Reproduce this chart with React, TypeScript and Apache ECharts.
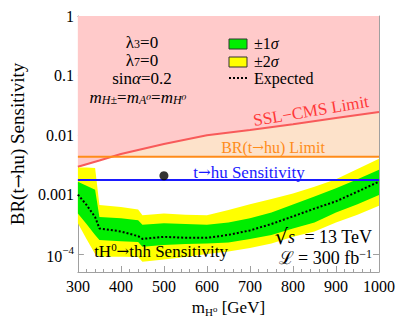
import React, { useEffect, useRef } from 'react';
import * as echarts from 'echarts';

// Mass grid (GeV) for the sensitivity bands
const masses = [300, 320, 340, 350, 400, 440, 450, 500, 550, 600, 650, 700, 750, 800, 850, 900, 950, 1000];
const expected = [1.0e-3, 6.7e-4, 4.2e-4, 2.7e-4, 2.4e-4, 2.0e-4, 1.8e-4, 1.95e-4, 1.88e-4, 1.88e-4, 2.1e-4, 2.5e-4, 3.2e-4, 4.3e-4, 5.8e-4, 7.7e-4, 1.12e-3, 1.65e-3];
const up1 = [1.64e-3, 1.4e-3, 1.2e-3, 4.2e-4, 4.0e-4, 3.7e-4, 3.1e-4, 3.3e-4, 3.2e-4, 3.1e-4, 3.4e-4, 4.0e-4, 5.0e-4, 6.8e-4, 9.3e-4, 1.28e-3, 1.8e-3, 2.6e-3];
const dn1 = [4.8e-4, 3.2e-4, 2.1e-4, 1.72e-4, 1.65e-4, 1.6e-4, 1.33e-4, 1.42e-4, 1.47e-4, 1.5e-4, 1.57e-4, 1.8e-4, 2.1e-4, 2.7e-4, 3.4e-4, 5.0e-4, 6.9e-4, 9.8e-4];
const up2 = [2.85e-3, 2.85e-3, 2.8e-3, 6.7e-4, 6.2e-4, 5.6e-4, 4.5e-4, 4.8e-4, 4.6e-4, 4.5e-4, 5.5e-4, 6.9e-4, 8.4e-4, 1.04e-3, 1.35e-3, 1.8e-3, 2.7e-3, 4.0e-3];
const dn2 = [3.3e-4, 1.8e-4, 1.0e-4, 9.0e-5, 9.0e-5, 8.9e-5, 7.4e-5, 8.1e-5, 8.9e-5, 1.0e-4, 1.1e-4, 1.27e-4, 1.5e-4, 1.95e-4, 2.4e-4, 3.4e-4, 4.6e-4, 6.5e-4];

// SSL-CMS limit
const sslMass = [300, 350, 400, 500, 600, 700, 800, 900, 1000];
const sslLimit = [2.93e-3, 3.73e-3, 4.8e-3, 7.06e-3, 9.9e-3, 0.0121, 0.0152, 0.0193, 0.0244];

// Horizontal references
const lineMass = [300, 1000];
const brLimit = [0.0043, 0.0043];
const thuSens = [0.00175, 0.00175];

// Benchmark point
const pointMass = [500];
const pointValue = [0.00207];

// Tick labels
const xTicks = [300, 400, 500, 600, 700, 800, 900, 1000];
const yTickExp = [-4, -3, -2, -1, 0];
const yTickLabels = ['{b|10}{s|−4}', '0.001', '0.01', '0.1', '1'];

const FONT = '"Liberation Serif", "Times New Roman", "DejaVu Serif", serif';
const ARROW_FONT = '"DejaVu Serif", "DejaVu Sans", serif';
const GRAY = '#a0a0a0';

export default function App() {
  const ref = useRef<HTMLDivElement>(null);
  useEffect(() => {
    if (!ref.current) return;
    const chart = echarts.init(ref.current, undefined, { renderer: 'svg' });
    const pair = (xs: number[], ys: number[]) => xs.map((x, i) => [x, ys[i]]);

    const yFormatter = (v: number) => {
      const e = Math.log10(v);
      const r = Math.round(e);
      if (Math.abs(e - r) > 1e-6) return '';
      const k = yTickExp.indexOf(r);
      return k >= 0 ? yTickLabels[k] : '';
    };

    const xCommon = {
      type: 'value' as const,
      min: 300,
      max: 1000,
      interval: 100,
      splitLine: { show: false },
      axisLine: { show: true, onZero: false, lineStyle: { color: GRAY, width: 1 } },
      axisTick: { show: true, inside: true, length: 6, lineStyle: { color: GRAY } },
      minorTick: { show: true, splitNumber: 5, length: 3, lineStyle: { color: GRAY } },
    };
    const yCommon = {
      type: 'log' as const,
      logBase: 10,
      min: 5e-5,
      max: 1,
      splitLine: { show: false },
      axisLine: { show: true, onZero: false, lineStyle: { color: GRAY, width: 1 } },
      axisTick: { show: true, inside: true, length: 6, lineStyle: { color: GRAY } },
    };

    const txt = (size: number, color: string, italic = false, extra: any = {}) => ({
      fontSize: size, fontFamily: FONT, fill: color, fontStyle: italic ? 'italic' : 'normal', ...extra,
    });

    chart.setOption({
      animation: false,
      backgroundColor: '#ffffff',
      grid: { left: 72, right: 20, top: 16, bottom: 56, containLabel: false },
      xAxis: [
        {
          ...xCommon,
          position: 'bottom',
          axisLabel: {
            margin: 6, fontSize: 16, color: '#000', fontFamily: FONT,
            formatter: (v: number) => (xTicks.indexOf(v) >= 0 ? String(v) : ''),
          },
          name: '{m|m}{s|H⁰}{m| [GeV]}',
          nameLocation: 'middle',
          nameGap: 21,
          nameTextStyle: {
            fontFamily: FONT, color: '#000',
            rich: {
              m: { fontSize: 17, fontFamily: FONT, lineHeight: 20, color: '#000' },
              s: { fontSize: 11, fontFamily: FONT, lineHeight: 12, verticalAlign: 'bottom', color: '#000' },
            },
          },
        },
        { ...xCommon, position: 'top', axisLabel: { show: false } },
      ],
      yAxis: [
        {
          ...yCommon,
          position: 'left',
          axisLabel: {
            margin: 4, fontSize: 16, color: '#000', fontFamily: FONT, showMinLabel: false,
            formatter: yFormatter,
            rich: {
              b: { fontSize: 16, fontFamily: FONT, color: '#000', lineHeight: 20, verticalAlign: 'bottom' },
              s: { fontSize: 11, fontFamily: FONT, color: '#000', lineHeight: 12, verticalAlign: 'top' },
            },
          },
          name: '{n|BR(t}{a|→}{n|hu) Sensitivity}',
          nameLocation: 'middle',
          nameGap: 46,
          nameTextStyle: {
            fontSize: 19, fontFamily: FONT, color: '#000',
            rich: {
              n: { fontSize: 19, fontFamily: FONT, color: '#000' },
              a: { fontSize: 17, fontFamily: ARROW_FONT, color: '#000' },
            },
          },
        },
        { ...yCommon, position: 'right', axisLabel: { show: false } },
      ],
      series: [
        {
          name: 'BR fill',
          type: 'line',
          data: pair(lineMass, brLimit),
          symbol: 'none',
          lineStyle: { width: 0 },
          areaStyle: { color: '#fde2ca', opacity: 1, origin: 'end' },
          z: 1,
        },
        {
          name: 'SSL-CMS Limit',
          type: 'line',
          data: pair(sslMass, sslLimit),
          symbol: 'none',
          lineStyle: { color: '#f85a5a', width: 2 },
          areaStyle: { color: '#ffcaca', opacity: 1, origin: 'end' },
          z: 2,
        },
        {
          name: 'bands',
          type: 'custom',
          data: pair(masses, expected),
          z: 3,
          renderItem: (params: any, api: any) => {
            if (params.dataIndex !== 0) return null;
            const pts = (arr: number[]) => masses.map((m, i) => api.coord([m, arr[i]]));
            const poly = (u: number[], d: number[], color: string) => ({
              type: 'polygon',
              shape: { points: [...pts(u), ...pts(d).reverse()] },
              style: { fill: color, stroke: 'none' },
            });
            return {
              type: 'group',
              children: [poly(up2, dn2, '#ffff00'), poly(up1, dn1, '#00ee00')],
            };
          },
        },
        {
          name: 'BR(t→hu) Limit',
          type: 'line',
          data: pair(lineMass, brLimit),
          symbol: 'none',
          lineStyle: { color: '#ff8c1a', width: 2 },
          z: 4,
        },
        {
          name: 't→hu Sensitivity',
          type: 'line',
          data: pair(lineMass, thuSens),
          symbol: 'none',
          lineStyle: { color: '#1a1aff', width: 2 },
          z: 4,
        },
        {
          name: 'Expected',
          type: 'line',
          data: pair(masses, expected),
          symbol: 'none',
          lineStyle: { color: '#000', width: 2, type: [2, 2] },
          z: 5,
        },
        {
          name: 'point',
          type: 'scatter',
          data: pair(pointMass, pointValue),
          symbol: 'circle',
          symbolSize: 9,
          itemStyle: { color: '#000' },
          z: 6,
        },
      ],
      graphic: [
        {
          type: 'text', x: 142, y: 42, z: 10,
          style: { text: '{n|λ}{s|3}{n|=0}', align: 'center', verticalAlign: 'middle', rich: { n: txt(17, '#000', false, { lineHeight: 16 }), s: txt(12, '#000', false, { lineHeight: 10, verticalAlign: 'bottom' }) } },
        },
        {
          type: 'text', x: 142, y: 60, z: 10,
          style: { text: '{n|λ}{s|7}{n|=0}', align: 'center', verticalAlign: 'middle', rich: { n: txt(17, '#000', false, { lineHeight: 16 }), s: txt(12, '#000', false, { lineHeight: 10, verticalAlign: 'bottom' }) } },
        },
        {
          type: 'text', x: 142, y: 78, z: 10,
          style: {
            text: '{n|sin}{i|α}{n|=0.2}', align: 'center', verticalAlign: 'middle',
            rich: { n: txt(17, '#000', false, { lineHeight: 16 }), i: txt(17, '#000', true, { lineHeight: 16 }) },
          },
        },
        {
          type: 'text', x: 138, y: 97, z: 10,
          style: {
            text: '{i|m}{s|H±}{n|=}{i|m}{s|A⁰}{n|=}{i|m}{s|H⁰}', align: 'center', verticalAlign: 'middle',
            rich: {
              n: txt(17, '#000', false, { lineHeight: 18 }),
              i: txt(17, '#000', true, { lineHeight: 18 }),
              s: txt(12, '#000', true, { lineHeight: 10, verticalAlign: 'bottom' }),
            },
          },
        },
        // legend
        { type: 'rect', z: 10, shape: { x: 229, y: 39, width: 18, height: 10 }, style: { fill: '#00ee00', stroke: '#333', lineWidth: 1 } },
        { type: 'rect', z: 10, shape: { x: 229, y: 57, width: 18, height: 10 }, style: { fill: '#ffff00', stroke: '#333', lineWidth: 1 } },
        { type: 'line', z: 10, shape: { x1: 229, y1: 78, x2: 248, y2: 78 }, style: { stroke: '#000', lineWidth: 2, lineDash: [2, 2] } },
        {
          type: 'text', x: 254, y: 43, z: 10,
          style: { text: '{n|±1}{i|σ}', verticalAlign: 'middle', rich: { n: txt(16, '#000', false, { lineHeight: 14 }), i: txt(16, '#000', true, { lineHeight: 14 }) } },
        },
        {
          type: 'text', x: 254, y: 61, z: 10,
          style: { text: '{n|±2}{i|σ}', verticalAlign: 'middle', rich: { n: txt(16, '#000', false, { lineHeight: 14 }), i: txt(16, '#000', true, { lineHeight: 14 }) } },
        },
        { type: 'text', x: 254, y: 78, z: 10, style: { text: 'Expected', fontSize: 16, fontFamily: FONT, fill: '#000', verticalAlign: 'middle', lineHeight: 14 } },
        // curve labels
        { type: 'text', x: 311, y: 111, rotation: 0.166, z: 10, style: { text: 'SSL−CMS Limit', fontSize: 17, fontFamily: FONT, fill: '#ff3838', align: 'center', verticalAlign: 'middle' } },
        {
          type: 'text', x: 273, y: 147, z: 10,
          style: { text: '{n|BR(t}{a|→}{n|hu) Limit}', align: 'center', verticalAlign: 'middle', rich: { n: txt(16, '#ff8c1a'), a: { fontSize: 14, fontFamily: ARROW_FONT, fill: '#ff8c1a' } } },
        },
        {
          type: 'text', x: 249, y: 172, z: 10,
          style: { text: '{n|t}{a|→}{n|hu Sensitivity}', align: 'center', verticalAlign: 'middle', rich: { n: txt(17, '#1a1aff'), a: { fontSize: 15, fontFamily: ARROW_FONT, fill: '#1a1aff' } } },
        },
        {
          type: 'text', x: 161, y: 251, z: 10,
          style: {
            text: '{n|tH}{p|0}{a|→}{n|thh Sensitivity}', align: 'center', verticalAlign: 'middle',
            rich: {
              n: txt(17, '#000', false, { lineHeight: 20 }),
              p: txt(11, '#000', false, { lineHeight: 12, verticalAlign: 'top' }),
              a: { fontSize: 15, fontFamily: ARROW_FONT, fill: '#000', lineHeight: 20 },
            },
          },
        },
        {
          type: 'text', x: 372, y: 237, z: 10,
          style: {
            text: '{r|√}{i|s}{n|  = 13 TeV}', align: 'right', verticalAlign: 'middle',
            rich: {
              r: { fontSize: 21, fontFamily: ARROW_FONT, fill: '#000', lineHeight: 22 },
              n: txt(18, '#000', false, { lineHeight: 22 }),
              i: txt(18, '#000', true, { lineHeight: 22 }),
            },
          },
        },
        {
          type: 'text', x: 372, y: 258, z: 10,
          style: {
            text: '{n|ℒ = 300 fb}{p|−1}', align: 'right', verticalAlign: 'middle',
            rich: {
              n: txt(18, '#000', false, { lineHeight: 20 }),
              p: txt(12, '#000', false, { lineHeight: 12, verticalAlign: 'top' }),
            },
          },
        },
      ],
    });
    return () => chart.dispose();
  }, []);
  return <div ref={ref} style={{ position: 'fixed', left: 0, top: 0, width: 399, height: 328 }} />;
}
